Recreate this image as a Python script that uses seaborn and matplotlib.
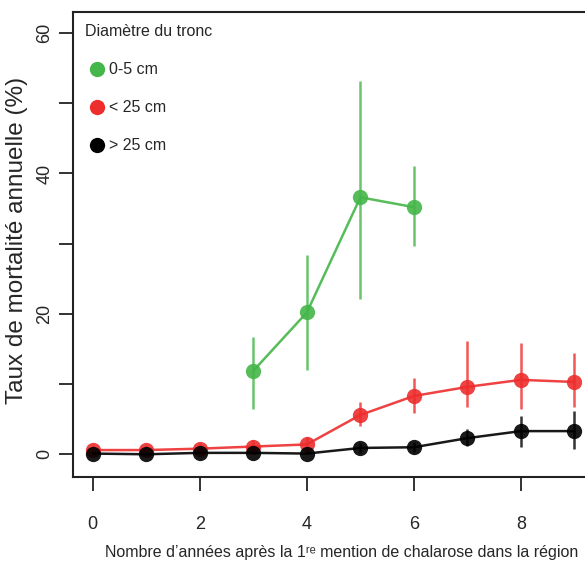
import numpy as np
import pandas as pd
import matplotlib
matplotlib.use("Agg")
import matplotlib.pyplot as plt
from matplotlib.lines import Line2D
from matplotlib.ticker import MultipleLocator
import seaborn as sns

# ── Data ──────────────────────────────────────────────────────────────────────
years_small = [3, 4, 5, 6]
mort_small = [11.9, 20.2, 36.6, 35.2]
low_small = [6.5, 12.0, 22.1, 29.6]
high_small = [16.7, 28.4, 53.2, 41.0]

years = [0, 1, 2, 3, 4, 5, 6, 7, 8, 9]
mort_mid = [0.6, 0.6, 0.8, 1.1, 1.4, 5.6, 8.3, 9.6, 10.6, 10.3]
low_mid = [0.0, 0.0, 0.0, 0.2, 0.4, 4.0, 5.9, 6.8, 6.4, 6.8]
high_mid = [1.3, 1.3, 1.6, 2.0, 2.4, 7.5, 10.9, 16.1, 15.8, 14.4]

mort_big = [0.1, 0.0, 0.2, 0.2, 0.1, 0.9, 1.0, 2.3, 3.3, 3.3]
low_big = [0.0, 0.0, 0.0, 0.0, 0.0, 0.2, 0.3, 1.2, 1.1, 0.8]
high_big = [0.5, 0.4, 0.6, 0.6, 0.5, 1.6, 1.8, 3.6, 5.4, 6.2]

labels = ["0-5 cm", "< 25 cm", "> 25 cm"]
colors = ["#45b649", "#ee2d2d", "#000000"]

# ── Style ─────────────────────────────────────────────────────────────────────
sns.set_style("white")
plt.rcParams["font.family"] = ["Liberation Sans Narrow", "Liberation Sans", "DejaVu Sans"]

fig = plt.figure(figsize=(5.85, 5.7), dpi=100)
ax = fig.add_axes([0.1248, 0.163, 0.912, 0.816])

series = [
    (years_small, mort_small, low_small, high_small),
    (years, mort_mid, low_mid, high_mid),
    (years, mort_big, low_big, high_big),
]

for (xs, ys, lo, hi), lab, col in zip(series, labels, colors):
    df = pd.DataFrame({"annee": xs, "taux": ys})
    ax.vlines(xs, lo, hi, color=col, linewidth=1.8, alpha=0.8, zorder=2)
    sns.lineplot(data=df, x="annee", y="taux", color=col, linewidth=1.8,
                 marker="o", markersize=11, markeredgewidth=0, alpha=0.9,
                 ax=ax, zorder=3, label=lab)

ax.set_xlim(-0.37, 9.6)
ax.set_ylim(-3.25, 63)
ax.set_xticks([0, 2, 4, 6, 8])
ax.set_yticks([0, 20, 40, 60])
ax.yaxis.set_minor_locator(MultipleLocator(10))
ax.tick_params(axis="both", which="both", direction="out", length=10, width=1.3,
               labelsize=13, color="#222222", bottom=True, left=True)
ax.tick_params(axis="x", pad=18)
ax.tick_params(axis="y", pad=4)
for t in ax.get_yticklabels():
    t.set_rotation(90)
    t.set_va("center")

for side in ["left", "bottom", "top"]:
    ax.spines[side].set_visible(True)
    ax.spines[side].set_color("#222222")
    ax.spines[side].set_linewidth(1.5)
ax.spines["right"].set_visible(False)

ax.set_xlabel("Nombre d\u2019années après la 1ʳᵉ mention de chalarose dans la région",
              fontsize=11.5)
ax.set_ylabel("Taux de mortalité annuelle (%)", fontsize=17.5)
ax.yaxis.set_label_coords(-0.084, 0.508)
ax.xaxis.set_label_coords(0.503, -0.145)

handles = [Line2D([], [], linestyle="none", marker="o", markersize=11,
                  markeredgewidth=0, color=c) for c in colors]
ax.legend(handles, labels, title="Diamètre du tronc", loc="upper left",
          frameon=False, fontsize=11.5, title_fontsize=11.5, handletextpad=0.0,
          handlelength=1.5, labelspacing=1.45, borderaxespad=0.35,
          alignment="left")

fig.savefig("out.png", dpi=100)
